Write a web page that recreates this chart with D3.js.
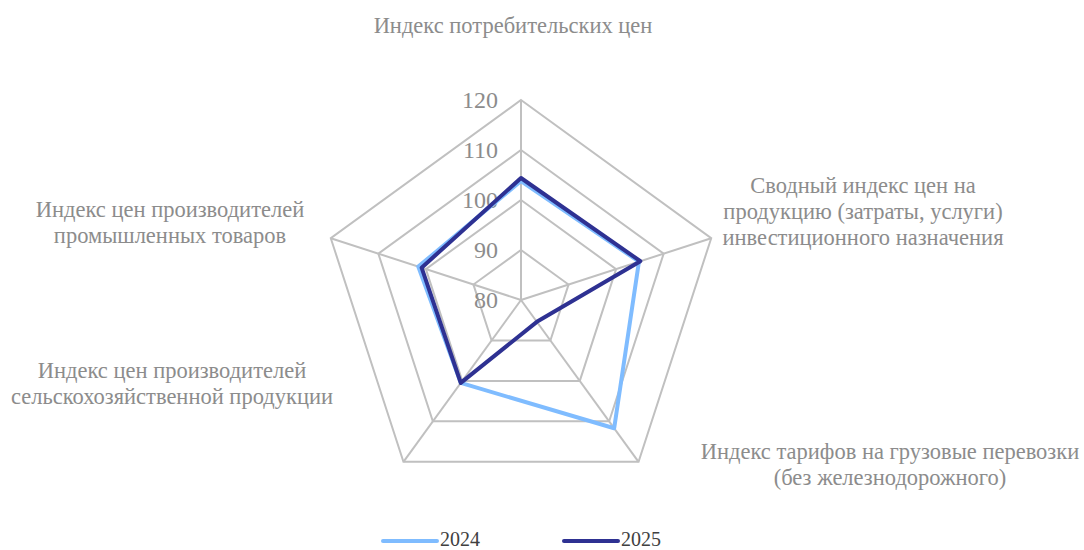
<!DOCTYPE html>
<html>
<head>
<meta charset="utf-8">
<script src="https://d3js.org/d3.v7.min.js"></script>
<style>
  body { margin: 0; background: #fff; }
</style>
</head>
<body>
<svg id="vis" width="1084" height="550" font-family="'Liberation Serif', 'Times New Roman', serif"></svg>
<script>
// categories, clockwise from the top
var categories = [
  ["Индекс потребительских цен"],
  ["Сводный индекс цен на", "продукцию (затраты, услуги)", "инвестиционного назначения"],
  ["Индекс тарифов на грузовые перевозки", "(без железнодорожного)"],
  ["Индекс цен производителей", "сельскохозяйственной продукции"],
  ["Индекс цен производителей", "промышленных товаров"]
];
var values2024 = [103.8, 104.8, 111.7, 100.5, 101.6];
var values2025 = [104.4, 105.1, 85.4, 100.5, 100.9];
var seriesNames = ["2024", "2025"];
var seriesColors = ["#7fbcff", "#2e3192"];
var ticks = [80, 90, 100, 110, 120];

// label anchor points (centre of the text block)
var labelPos = [[513, 25], [863, 211], [890, 464], [172, 383], [170, 222]];

var svg = d3.select("#vis");
var cx = 521, cy = 300;

var r = d3.scaleLinear().domain([80, 120]).range([0, 200]);
var angle = d3.scaleLinear().domain([0, categories.length]).range([0, 2 * Math.PI]);

var g = svg.append("g").attr("transform", "translate(" + cx + "," + cy + ")");

// grid rings
var ring = d3.lineRadial()
  .angle(function(d, i) { return angle(i); })
  .radius(function(d) { return r(d); })
  .curve(d3.curveLinearClosed);

ticks.forEach(function(t) {
  g.append("path")
    .attr("d", ring(categories.map(function() { return t; })))
    .attr("fill", "none")
    .attr("stroke", "#c0c0c0")
    .attr("stroke-width", 2);
});

// spokes
categories.forEach(function(c, i) {
  var a = angle(i);
  g.append("line")
    .attr("x1", 0).attr("y1", 0)
    .attr("x2", r(120) * Math.sin(a))
    .attr("y2", -r(120) * Math.cos(a))
    .attr("stroke", "#c0c0c0")
    .attr("stroke-width", 2);
});

// tick labels
ticks.forEach(function(t) {
  g.append("text")
    .attr("x", -23)
    .attr("y", -r(t))
    .attr("dy", "0.35em")
    .attr("text-anchor", "end")
    .attr("fill", "#8c8c8c")
    .attr("font-size", 24)
    .text(t);
});

// series
[values2024, values2025].forEach(function(vals, k) {
  g.append("path")
    .attr("d", ring(vals))
    .attr("fill", "none")
    .attr("stroke", seriesColors[k])
    .attr("stroke-width", 4)
    .attr("stroke-linejoin", "round");
});

// category labels
var lh = 26;
categories.forEach(function(lines, i) {
  var t = svg.append("text")
    .attr("text-anchor", "middle")
    .attr("fill", "#8c8c8c")
    .attr("font-size", 22.5);
  var y0 = labelPos[i][1] - (lines.length - 1) * lh / 2;
  lines.forEach(function(s, j) {
    t.append("tspan")
      .attr("x", labelPos[i][0])
      .attr("y", y0 + j * lh)
      .attr("dy", "0.35em")
      .text(s);
  });
});

// legend
var legendX = [383, 564];
seriesNames.forEach(function(name, k) {
  svg.append("line")
    .attr("x1", legendX[k]).attr("x2", legendX[k] + 54)
    .attr("y1", 541).attr("y2", 541)
    .attr("stroke", seriesColors[k])
    .attr("stroke-width", 4)
    .attr("stroke-linecap", "round");
  svg.append("text")
    .attr("x", legendX[k] + 57)
    .attr("y", 539)
    .attr("dy", "0.35em")
    .attr("fill", "#404040")
    .attr("font-size", 20)
    .text(name);
});
</script>
</body>
</html>
